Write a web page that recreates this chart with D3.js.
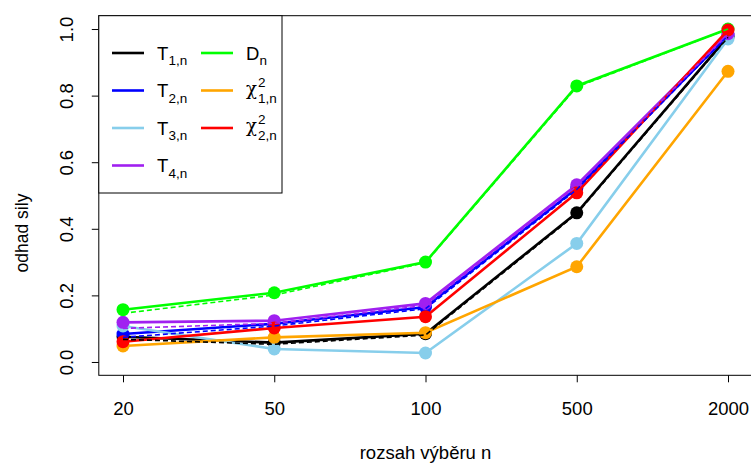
<!DOCTYPE html>
<html>
<head>
<meta charset="utf-8">
<script src="https://cdn.jsdelivr.net/npm/d3@7"></script>
<style>
  body { margin: 0; background: #fff; }
  svg { font-family: "Liberation Sans", Arial, sans-serif; }
</style>
</head>
<body>
<div id="chart"></div>
<script>
// sample sizes on the x axis (equally spaced)
const sampleSizes = ['20', '50', '100', '500', '2000'];
const yTicks = [0, 0.2, 0.4, 0.6, 0.8, 1.0];

// estimated power, solid lines with points
const T1 = [0.076, 0.058, 0.085, 0.448, 0.977];
const T2 = [0.084, 0.115, 0.165, 0.522, 0.982];
const T3 = [0.108, 0.039, 0.027, 0.356, 0.970];
const T4 = [0.119, 0.124, 0.176, 0.532, 0.986];
const Dn = [0.157, 0.208, 0.300, 0.829, 1.000];
const chi1 = [0.048, 0.074, 0.088, 0.286, 0.873];
const chi2 = [0.061, 0.102, 0.136, 0.508, 0.997];

// dashed companions (no points)
const T1dash = [0.068, 0.053, 0.081, 0.445, 0.975];
const T2dash = [0.074, 0.108, 0.160, 0.518, 0.980];
const T4dash = [0.101, 0.116, 0.170, 0.528, 0.985];
const Dndash = [0.146, 0.201, 0.298, 0.826, 1.000];

const solid = [
  { key: 'T1', values: T1, color: '#000000' },
  { key: 'T2', values: T2, color: '#0000FF' },
  { key: 'T3', values: T3, color: '#87CEEB' },
  { key: 'T4', values: T4, color: '#A020F0' },
  { key: 'Dn', values: Dn, color: '#00FF00' },
  { key: 'chi1', values: chi1, color: '#FFA500' },
  { key: 'chi2', values: chi2, color: '#FF0000' },
];
const dashed = [
  { key: 'Dn', values: Dndash, color: '#00FF00' },
  { key: 'T4', values: T4dash, color: '#A020F0' },
  { key: 'T2', values: T2dash, color: '#0000FF' },
  { key: 'T1', values: T1dash, color: '#000000' },
];

const W = 751, H = 466;
const box = { left: 98.8, right: 752.2, top: 15.7, bottom: 375.3 };
const fs = 18.5;

const svg = d3.select('#chart').append('svg')
  .attr('width', W)
  .attr('height', H);

const x = d3.scaleLinear().domain([0.84, 5.16]).range([box.left, box.right]);
const y = d3.scaleLinear().domain([-0.04, 1.04]).range([box.bottom, box.top]);

// axes
const xAxis = d3.axisBottom(x)
  .tickValues(sampleSizes.map((s, i) => i + 1))
  .tickFormat((d, i) => sampleSizes[i])
  .tickSizeOuter(0)
  .tickSize(7)
  .tickPadding(20);
const gx = svg.append('g')
  .attr('transform', `translate(0, ${box.bottom})`)
  .call(xAxis);
gx.select('.domain').remove();
gx.selectAll('line').attr('stroke', '#000');
gx.selectAll('text').attr('font-size', fs).attr('fill', '#000');

const yAxis = d3.axisLeft(y)
  .tickValues(yTicks)
  .tickFormat(d3.format('.1f'))
  .tickSizeOuter(0)
  .tickSize(7);
const gy = svg.append('g')
  .attr('transform', `translate(${box.left}, 0)`)
  .call(yAxis);
gy.select('.domain').remove();
gy.selectAll('line').attr('stroke', '#000');
gy.selectAll('text')
  .attr('font-size', fs)
  .attr('fill', '#000')
  .attr('text-anchor', 'middle')
  .attr('dy', 0)
  .attr('x', 0)
  .attr('transform', 'translate(-26, 0) rotate(-90)');

svg.append('text')
  .attr('x', (box.left + box.right) / 2).attr('y', 459)
  .attr('text-anchor', 'middle')
  .attr('font-size', fs)
  .text('rozsah výběru n');

svg.append('text')
  .attr('transform', 'translate(28, 233) rotate(-90)')
  .attr('text-anchor', 'middle')
  .attr('font-size', 17.5)
  .text('odhad sily');

// plot box
svg.append('rect')
  .attr('x', box.left).attr('y', box.top)
  .attr('width', box.right - box.left).attr('height', box.bottom - box.top)
  .attr('fill', 'none').attr('stroke', '#000').attr('stroke-width', 1);

const line = d3.line()
  .x((d, i) => x(i + 1))
  .y(d => y(d));

const plot = svg.append('g');
solid.forEach(s => {
  plot.append('path')
    .datum(s.values)
    .attr('d', line)
    .attr('fill', 'none')
    .attr('stroke', s.color)
    .attr('stroke-width', 2.6);
  plot.selectAll(null)
    .data(s.values)
    .enter()
    .append('circle')
      .attr('cx', (d, i) => x(i + 1))
      .attr('cy', d => y(d))
      .attr('r', 6.5)
      .attr('fill', s.color);
});
dashed.forEach(s => {
  plot.append('path')
    .datum(s.values)
    .attr('d', line)
    .attr('fill', 'none')
    .attr('stroke', s.color)
    .attr('stroke-width', 1.6)
    .attr('stroke-dasharray', '5,3');
});

// legend
const lg = svg.append('g');
lg.append('rect')
  .attr('x', box.left).attr('y', box.top)
  .attr('width', 282 - box.left).attr('height', 193 - box.top)
  .attr('fill', '#fff').attr('stroke', '#000').attr('stroke-width', 1);

const legendItems = [
  { col: 0, row: 0, color: '#000000', main: 'T', sub: '1,n' },
  { col: 0, row: 1, color: '#0000FF', main: 'T', sub: '2,n' },
  { col: 0, row: 2, color: '#87CEEB', main: 'T', sub: '3,n' },
  { col: 0, row: 3, color: '#A020F0', main: 'T', sub: '4,n' },
  { col: 1, row: 0, color: '#00FF00', main: 'D', sub: 'n' },
  { col: 1, row: 1, color: '#FFA500', main: 'χ', sub: '1,n', sup: '2' },
  { col: 1, row: 2, color: '#FF0000', main: 'χ', sub: '2,n', sup: '2' },
];
const rowY = [53, 90.5, 128, 165.5];
const colX = [112, 201];

legendItems.forEach(it => {
  const lx = colX[it.col], ly = rowY[it.row];
  lg.append('line')
    .attr('x1', lx).attr('x2', lx + 32)
    .attr('y1', ly).attr('y2', ly)
    .attr('stroke', it.color).attr('stroke-width', 2.6);
  const tx = lx + 45;
  const isChi = it.main === 'χ';
  lg.append('text')
    .attr('x', tx).attr('y', isChi ? ly + 4 : ly + 6.5)
    .attr('font-size', isChi ? 18 : fs)
    .attr('font-family', isChi ? '"DejaVu Serif", serif' : null)
    .text(it.main);
  const mw = it.main === 'T' ? 11.5 : (it.main === 'D' ? 13.5 : 12);
  lg.append('text')
    .attr('x', tx + mw).attr('y', ly + 12)
    .attr('font-size', 13.5)
    .text(it.sub);
  if (it.sup) {
    lg.append('text')
      .attr('x', tx + mw).attr('y', ly - 4)
      .attr('font-size', 13.5)
      .text(it.sup);
  }
});
</script>
</body>
</html>
